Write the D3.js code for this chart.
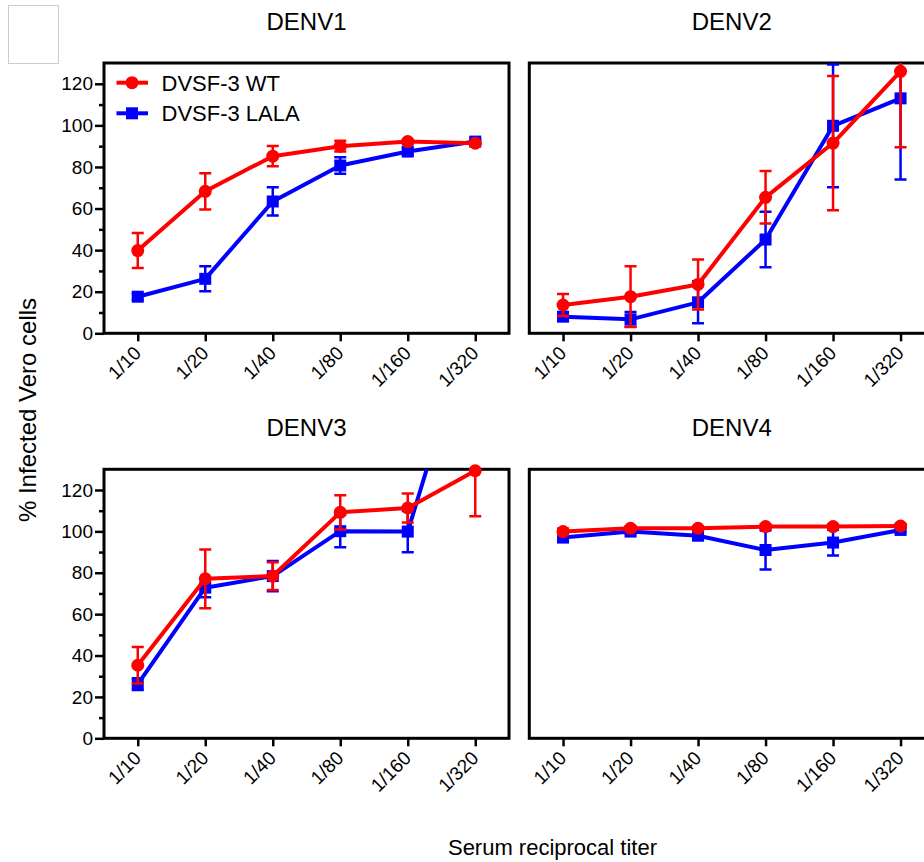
<!DOCTYPE html>
<html>
<head>
<meta charset="utf-8">
<script src="https://cdn.jsdelivr.net/npm/d3@7/dist/d3.min.js"></script>
<style>
  html, body { margin: 0; padding: 0; background: #fff; }
  svg { display: block; font-family: "Liberation Sans", Arial, Helvetica, sans-serif; }
</style>
</head>
<body>
<svg id="chart" width="924" height="862"></svg>
<script>
// ---- data ----
const titers = ["1/10", "1/20", "1/40", "1/80", "1/160", "1/320"];
const panelNames = ["DENV1", "DENV2", "DENV3", "DENV4"];
const seriesNames = ["DVSF-3 WT", "DVSF-3 LALA"];
const yTicks = [0, 20, 40, 60, 80, 100, 120];
const yMinorTicks = [10, 30, 50, 70, 90, 110];

const denv1WT      = [39.8, 68.3, 85.2, 90.0, 92.2, 91.4];
const denv1WTErr   = [8.4, 8.7, 4.9, 2.6, 1.0, 1.0];
const denv1LALA    = [17.6, 26.2, 63.4, 80.7, 87.4, 92.2];
const denv1LALAErr = [1.5, 6.0, 6.8, 4.0, 1.5, 1.0];

const denv2WT      = [13.6, 17.6, 23.5, 65.4, 91.5, 126.0];
const denv2WTErr   = [5.3, 14.6, 12.0, 12.6, 32.3, 36.5];
const denv2LALA    = [8.0, 6.7, 14.9, 45.1, 99.8, 113.0];
const denv2LALAErr = [2.0, 3.5, 10.1, 13.3, 29.5, 39.0];

const denv3WT      = [35.3, 77.1, 78.4, 109.2, 111.3, 129.3];
const denv3WTErr   = [8.8, 14.2, 6.7, 8.3, 7.0, 22.0];
const denv3LALA    = [26.2, 72.8, 78.4, 100.1, 99.9, 207.0];
const denv3LALAErr = [2.8, 4.6, 7.3, 7.8, 10.0, 0];

const denv4WT      = [99.9, 101.5, 101.5, 102.3, 102.3, 102.6];
const denv4WTErr   = [1.5, 1.0, 1.0, 1.0, 1.0, 1.0];
const denv4LALA    = [97.0, 99.9, 97.9, 91.0, 94.6, 100.7];
const denv4LALAErr = [1.5, 1.0, 1.5, 9.4, 6.2, 1.0];

const panelData = [
  { wt: denv1WT, wtErr: denv1WTErr, lala: denv1LALA, lalaErr: denv1LALAErr },
  { wt: denv2WT, wtErr: denv2WTErr, lala: denv2LALA, lalaErr: denv2LALAErr },
  { wt: denv3WT, wtErr: denv3WTErr, lala: denv3LALA, lalaErr: denv3LALAErr },
  { wt: denv4WT, wtErr: denv4WTErr, lala: denv4LALA, lalaErr: denv4LALAErr }
];

// ---- layout ----
const RED = "#ff0000", BLUE = "#0000ff";
const panelW = 405;
const layout = [
  { x0: 104,   y0: 63,    y1: 333.3, yAxis: true,  legend: true },
  { x0: 529.3, y0: 63,    y1: 333.3, yAxis: false, legend: false },
  { x0: 104,   y0: 469.3, y1: 738.3, yAxis: true,  legend: false },
  { x0: 529.3, y0: 469.3, y1: 738.3, yAxis: false, legend: false }
];

const svg = d3.select("#chart");

// empty box top-left
svg.append("rect").attr("x", 8.5).attr("y", 5.5).attr("width", 50).attr("height", 58)
  .attr("fill", "none").attr("stroke", "#cccccc").attr("stroke-width", 1);

layout.forEach((L, i) => {
  const x1 = L.x0 + panelW;
  const x = d3.scalePoint().domain(titers).range([L.x0, x1]).padding(0.5);
  const y = d3.scaleLinear().domain([0, 130]).range([L.y1, L.y0]);
  const g = svg.append("g");
  const clipId = "clip" + i, clipM = "clipm" + i;
  const defs = svg.append("defs");
  defs.append("clipPath").attr("id", clipId).append("rect")
    .attr("x", L.x0).attr("y", L.y0).attr("width", panelW).attr("height", L.y1 - L.y0);
  defs.append("clipPath").attr("id", clipM).append("rect")
    .attr("x", L.x0 - 10).attr("y", L.y0 - 8).attr("width", panelW + 20).attr("height", L.y1 - L.y0 + 16);

  // title
  svg.append("text").attr("x", (L.x0 + x1) / 2).attr("y", L.y0 - 33)
    .attr("text-anchor", "middle").attr("font-size", 24).attr("fill", "#000")
    .text(panelNames[i]);

  // x axis
  const xa = g.append("g").attr("transform", `translate(0,${L.y1})`)
    .call(d3.axisBottom(x).tickSize(8).tickSizeOuter(0));
  xa.select(".domain").remove();
  xa.selectAll(".tick line").attr("stroke", "#000").attr("stroke-width", 2.5);
  xa.selectAll(".tick text").attr("font-size", 19).attr("fill", "#000")
    .attr("text-anchor", "end").attr("dy", null).attr("y", null)
    .attr("transform", "translate(4,21) rotate(-45)");

  if (L.yAxis) {
    const ya = g.append("g").attr("transform", `translate(${L.x0},0)`)
      .call(d3.axisLeft(y).tickValues(yTicks).tickSize(9).tickPadding(2).tickSizeOuter(0));
    ya.select(".domain").remove();
    ya.selectAll(".tick line").attr("stroke", "#000").attr("stroke-width", 2.5);
    ya.selectAll(".tick text").attr("font-size", 19).attr("fill", "#000");
    const ym = g.append("g").attr("transform", `translate(${L.x0},0)`)
      .call(d3.axisLeft(y).tickValues(yMinorTicks).tickSize(5).tickFormat(""));
    ym.select(".domain").remove();
    ym.selectAll(".tick line").attr("stroke", "#000").attr("stroke-width", 2.5);
  }

  // frame
  g.append("rect").attr("x", L.x0).attr("y", L.y0).attr("width", panelW).attr("height", L.y1 - L.y0)
    .attr("fill", "none").attr("stroke", "#000").attr("stroke-width", 3);

  const d = panelData[i];
  const series = [
    { vals: d.lala, errs: d.lalaErr, color: BLUE, shape: "square" },
    { vals: d.wt, errs: d.wtErr, color: RED, shape: "circle" }
  ];
  const line = d3.line().x((v, k) => x(titers[k])).y(v => y(v));

  series.forEach(s => {
    const pts = s.vals.map((v, k) => ({ t: titers[k], v: v, e: s.errs[k] }));
    const eg = g.append("g").attr("clip-path", `url(#${clipId})`);
    const eb = eg.selectAll("g.err").data(pts.filter(p => p.e > 0)).join("g");
    eb.append("line").attr("x1", p => x(p.t)).attr("x2", p => x(p.t))
      .attr("y1", p => y(p.v - p.e)).attr("y2", p => y(p.v + p.e))
      .attr("stroke", s.color).attr("stroke-width", 2.5);
    [-1, 1].forEach(sign => {
      eb.append("line").attr("x1", p => x(p.t) - 6).attr("x2", p => x(p.t) + 6)
        .attr("y1", p => y(p.v + sign * p.e)).attr("y2", p => y(p.v + sign * p.e))
        .attr("stroke", s.color).attr("stroke-width", 2.5);
    });
    eg.append("path").attr("d", line(s.vals)).attr("fill", "none")
      .attr("stroke", s.color).attr("stroke-width", 4).attr("stroke-linejoin", "round");
    const mg = g.append("g").attr("clip-path", `url(#${clipM})`);
    if (s.shape === "circle") {
      mg.selectAll("circle").data(pts).join("circle")
        .attr("cx", p => x(p.t)).attr("cy", p => y(p.v)).attr("r", 6.5).attr("fill", s.color);
    } else {
      mg.selectAll("rect").data(pts).join("rect")
        .attr("x", p => x(p.t) - 6).attr("y", p => y(p.v) - 6)
        .attr("width", 12).attr("height", 12).attr("fill", s.color);
    }
  });

  if (L.legend) {
    const lg = svg.append("g");
    const items = [
      { name: seriesNames[0], color: RED, shape: "circle", yy: 82.7 },
      { name: seriesNames[1], color: BLUE, shape: "square", yy: 113.3 }
    ];
    items.forEach(it => {
      lg.append("line").attr("x1", 116.5).attr("x2", 148).attr("y1", it.yy).attr("y2", it.yy)
        .attr("stroke", it.color).attr("stroke-width", 4);
      if (it.shape === "circle") {
        lg.append("circle").attr("cx", 132).attr("cy", it.yy).attr("r", 6.5).attr("fill", it.color);
      } else {
        lg.append("rect").attr("x", 126).attr("y", it.yy - 6).attr("width", 12).attr("height", 12).attr("fill", it.color);
      }
      lg.append("text").attr("x", 161.5).attr("y", it.yy + 8).attr("font-size", 22).attr("fill", "#000")
        .text(it.name);
    });
  }
});

// axis titles
svg.append("text").attr("transform", "translate(36,410) rotate(-90)")
  .attr("text-anchor", "middle").attr("font-size", 24).attr("fill", "#000")
  .text("% Infected Vero cells");
svg.append("text").attr("x", 552.5).attr("y", 855)
  .attr("text-anchor", "middle").attr("font-size", 22).attr("fill", "#000")
  .text("Serum reciprocal titer");
</script>
</body>
</html>
